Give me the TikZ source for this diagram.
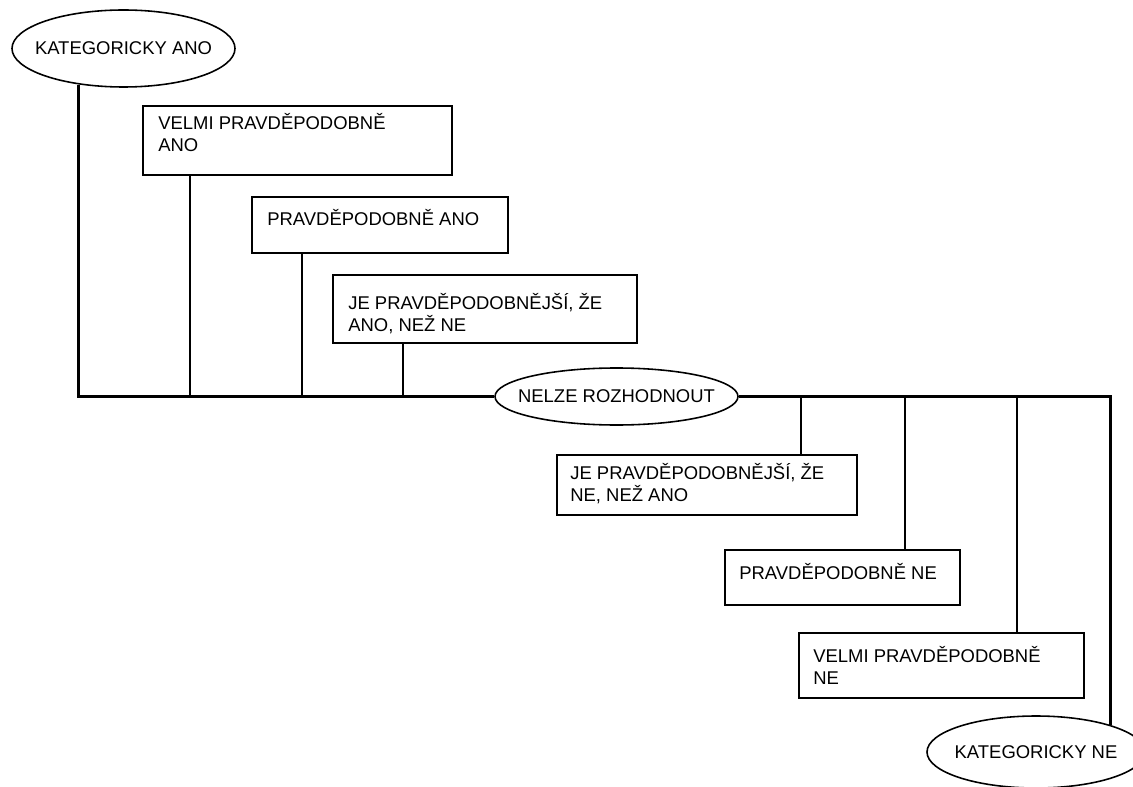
\documentclass[tikz,border=0pt]{standalone}
\usepackage{fontspec}
\setmainfont{Liberation Sans}
\usetikzlibrary{shapes.geometric,calc}
\begin{document}
\begin{tikzpicture}[x=0.02cm,y=-0.02cm,
  every node/.style={font={\fontsize{10.5pt}{12.5pt}\selectfont}},
  oval/.style={draw, ellipse, inner sep=0pt, line width=0.9pt},
  box/.style={draw, rectangle, inner sep=0pt, outer sep=0pt, line width=0.9pt, anchor=north west},
  txt/.style={anchor=north west, inner sep=0pt, align=left},
  mainline/.style={line width=1.7pt},
  stem/.style={line width=0.8pt}]
\useasboundingbox (0,0) rectangle (1133,787);
% ellipses
\node[oval, minimum width={223*0.02cm}, minimum height={77*0.02cm}] (katano) at (123.5,48.5) {\makebox[0pt]{KATEGORICKY ANO}};
\node[oval, minimum width={243*0.02cm}, minimum height={57*0.02cm}] (nelze) at (616.5,396.5) {\makebox[0pt]{NELZE ROZHODNOUT}};
\node[oval, minimum width={218*0.02cm}, minimum height={72*0.02cm}] (katne) at (1036,752) {\makebox[0pt]{KATEGORICKY NE}};
% boxes
\node[box, minimum width={309*0.02cm}, minimum height={69*0.02cm}] (b1) at (143,106) {};
\node[box, minimum width={256*0.02cm}, minimum height={56*0.02cm}] (b2) at (252,197) {};
\node[box, minimum width={304*0.02cm}, minimum height={68*0.02cm}] (b3) at (333,275) {};
\node[box, minimum width={300*0.02cm}, minimum height={60*0.02cm}] (b4) at (557,455) {};
\node[box, minimum width={235*0.02cm}, minimum height={55*0.02cm}] (b5) at (725,550) {};
\node[box, minimum width={285*0.02cm}, minimum height={65*0.02cm}] (b6) at (799,633) {};
% texts
\node[txt] (t1) at ($(b1.north west)+(15,7)$) {VELMI PRAVDĚPODOBNĚ\\ANO};
\node[txt] (t2) at ($(b2.north west)+(15,12)$) {PRAVDĚPODOBNĚ ANO};
\node[txt] (t3) at ($(b3.north west)+(15,18)$) {JE PRAVDĚPODOBNĚJŠÍ, ŽE\\ANO, NEŽ NE};
\node[txt] (t4) at ($(b4.north west)+(13,8)$) {JE PRAVDĚPODOBNĚJŠÍ, ŽE\\NE, NEŽ ANO};
\node[txt] (t5) at ($(b5.north west)+(14,13)$) {PRAVDĚPODOBNĚ NE};
\node[txt] (t6) at ($(b6.north west)+(14,13)$) {VELMI PRAVDĚPODOBNĚ\\NE};
% main line
\draw[mainline] (katano.219) |- (nelze.west);
\draw[mainline] (nelze.east) -| (katne.20.6);
% stems
\coordinate (s1) at ($(b1.south west)+(47,0)$);
\coordinate (s2) at ($(b2.south west)+(50,0)$);
\coordinate (s3) at ($(b3.south west)+(70,0)$);
\coordinate (s4) at ($(b4.north west)+(244,0)$);
\coordinate (s5) at ($(b5.north west)+(180,0)$);
\coordinate (s6) at ($(b6.north west)+(218,0)$);
\draw[stem] (s1) -- (s1 |- nelze.west);
\draw[stem] (s2) -- (s2 |- nelze.west);
\draw[stem] (s3) -- (s3 |- nelze.west);
\draw[stem] (s4) -- (s4 |- nelze.east);
\draw[stem] (s5) -- (s5 |- nelze.east);
\draw[stem] (s6) -- (s6 |- nelze.east);
\end{tikzpicture}
\end{document}
